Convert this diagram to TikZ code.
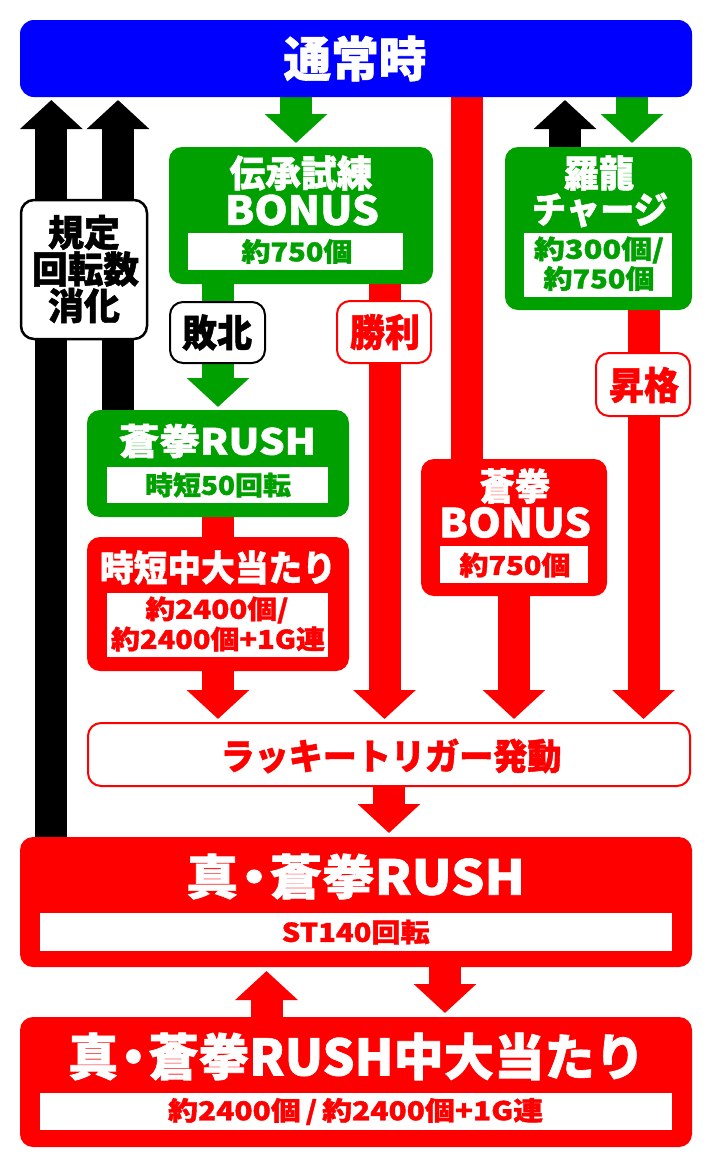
\documentclass[tikz,border=0pt]{standalone}
\usepackage{fontspec}
\setmainfont{Noto Sans CJK JP}[BoldFeatures={FakeBold=1.3}]
\usetikzlibrary{arrows.meta,backgrounds}
\definecolor{cblue}{HTML}{0000FF}
\definecolor{cgreen}{HTML}{00A000}
\definecolor{cred}{HTML}{FF0000}
\newsavebox\fitbox
\newcommand\fitw[2]{\sbox\fitbox{#2}\pgfmathsetmacro\fitr{#1/\the\wd\fitbox}\scalebox{\fitr}[1]{\usebox\fitbox}}
\newcommand\bx[6]{\node[#6, minimum width={(#4-#2)*1pt}, minimum height={(#5-#3)*1pt}] (#1) at ({(#2+#4)/2},{(#3+#5)/2}) {};}
\newcommand\tx[7]{\node[txt, text=#6, font=\bfseries\fontsize{#4}{#4}\selectfont] (#1) at (#2,#3) {\fitw{#5}{#7}};}
\newcommand\mdot{\kern-0.2em・\kern-0.2em}
\tikzset{
  basebox/.style={rectangle, inner sep=0pt, outer sep=0pt, rounded corners=13pt},
  gbox/.style={basebox, fill=cgreen},
  rbox/.style={basebox, fill=cred},
  wbox/.style={basebox, fill=white, line width=2.5pt},
  ibox/.style={rectangle, inner sep=0pt, outer sep=0pt, fill=white},
  txt/.style={inner sep=0pt, outer sep=0pt, anchor=center},
  arr/.style={line width=32pt, -{Triangle[width=61pt,length=29pt]}, shorten >=4pt},
  bar/.style={line width=32pt}
}
\begin{document}
\begin{tikzpicture}[x=1pt,y=-1pt]
\useasboundingbox (0,0) rectangle (712,1168);
% boxes
\bx{blue}{20}{20}{692}{97}{basebox, fill=cblue, rounded corners=14pt}
\bx{den}{169}{147}{433}{284}{gbox}
\bx{deni}{188}{233}{403}{270}{ibox}
\bx{ra}{505}{147}{692}{310}{gbox}
\bx{rai}{524}{233}{672}{297}{ibox}
\bx{kitei}{21}{200}{147}{339}{wbox, draw=black}
\bx{haiboku}{170}{302}{265}{363}{wbox, draw=black, line width=2pt}
\bx{shori}{337}{301}{431}{363}{wbox, draw=cred, line width=2pt}
\bx{shokaku}{596}{353}{690}{416}{wbox, draw=cred, line width=2pt}
\bx{sr}{87}{410}{349}{517}{gbox}
\bx{sri}{107}{467}{328}{503}{ibox}
\bx{jt}{87}{537}{349}{671}{rbox}
\bx{jti}{107}{593}{328}{657}{ibox}
\bx{sb}{421}{459}{607}{596}{rbox}
\bx{sbi}{440}{546}{588}{583}{ibox}
\bx{lucky}{88}{723}{690}{786}{wbox, draw=cred, line width=2pt}
\bx{shin}{20}{837}{692}{967}{rbox}
\bx{shini}{40}{913}{672}{951}{ibox}
\bx{bottom}{20}{1017}{692}{1147}{rbox}
\bx{bottomi}{40}{1093}{672}{1130}{ibox}
% columns
\coordinate (bk1) at (51.3,0);
\coordinate (bk2) at (118,0);
\coordinate (g1) at (296,0);
\coordinate (r1) at (467,0);
\coordinate (bk3) at (565,0);
\coordinate (g2) at (632,0);
\coordinate (c1) at (218,0);
\coordinate (c2) at (384.5,0);
\coordinate (c3) at (643.5,0);
\coordinate (c4) at (514,0);
\coordinate (c5) at (389,0);
\coordinate (c6) at (445,0);
\coordinate (c7) at (266.5,0);
\begin{pgfonlayer}{background}
\fill[white] (0,0) rectangle (712,1168);
\draw[arr, cgreen] (blue.south -| g1) -- (den.north -| g1);
\draw[arr, cgreen] (blue.south -| g2) -- (ra.north -| g2);
\draw[arr, black, shorten >=3pt] (shin.north -| bk1) -- (blue.south -| bk1);
\draw[arr, black, shorten >=3pt] (sr.north -| bk2) -- (blue.south -| bk2);
\draw[arr, black, shorten >=3pt] (ra.north -| bk3) -- (blue.south -| bk3);
\draw[bar, cred] (blue.south -| r1) -- (sb.north -| r1);
\draw[bar, cgreen] (den.south -| c1) -- (haiboku.north -| c1);
\draw[arr, cgreen, shorten >=3pt] (haiboku.south -| c1) -- (sr.north -| c1);
\draw[bar, cred] (sr.south -| c1) -- (jt.north -| c1);
\draw[arr, cred] (jt.south -| c1) -- (lucky.north -| c1);
\draw[arr, cred] (den.south -| c2) -- (lucky.north -| c2);
\draw[arr, cred] (sb.south -| c4) -- (lucky.north -| c4);
\draw[arr, cred] (ra.south -| c3) -- (lucky.north -| c3);
\draw[arr, cred] (lucky.south -| c5) -- (shin.north -| c5);
\draw[arr, cred] (shin.south -| c6) -- (bottom.north -| c6);
\draw[arr, cred] (bottom.north -| c7) -- (shin.south -| c7);
\end{pgfonlayer}
% texts
\tx{t1}{355}{58.5}{48}{143}{white}{通常時}
\tx{t2}{301}{173}{37}{143}{white}{伝承試練}
\tx{t3}{302}{210}{40}{154}{white}{BONUS}
\tx{t4}{297}{251.5}{26}{111}{cgreen}{約750個}
\tx{t5}{599}{173}{37}{70.5}{white}{羅龍}
\tx{t6}{600}{210}{37}{136}{white}{チャージ}
\tx{t7}{599}{250}{26}{130}{cgreen}{約300個/}
\tx{t8}{599}{278.5}{26}{111}{cgreen}{約750個}
\tx{t9}{84}{232.5}{37}{72}{black}{規定}
\tx{t10}{85.5}{269}{37}{107}{black}{回転数}
\tx{t11}{84}{305.5}{37}{72}{black}{消化}
\tx{t12}{217}{332.5}{38}{70}{black}{敗北}
\tx{t13}{385}{332}{38}{70}{cred}{勝利}
\tx{t14}{644}{385}{38}{70}{cred}{昇格}
\tx{t15}{217.5}{441}{36}{197}{white}{蒼拳RUSH}
\tx{t16}{218}{485}{26}{146}{cgreen}{時短50回転}
\tx{t17}{218}{567.5}{36}{236}{white}{時短中大当たり}
\tx{t18}{217}{610}{26}{143}{cred}{約2400個/}
\tx{t19}{218}{639}{26}{214}{cred}{約2400個+1G連}
\tx{t20}{515}{486}{37}{70.5}{white}{蒼拳}
\tx{t21}{515}{522.5}{40}{152}{white}{BONUS}
\tx{t22}{515}{565}{26}{111}{cred}{約750個}
\tx{t23}{391}{756}{36}{341}{cred}{ラッキートリガー発動}
\tx{t24}{355.5}{876.5}{48}{339}{white}{真\mdot 蒼拳RUSH}
\tx{t25}{355.7}{932}{26}{148}{cred}{ST140回転}
\tx{t26}{356.5}{1056.5}{50}{577}{white}{真\mdot 蒼拳RUSH中大当たり}
\tx{t27}{355.6}{1111.5}{26}{375}{cred}{約2400個\,/\,約2400個+1G連}
\end{tikzpicture}
\end{document}
